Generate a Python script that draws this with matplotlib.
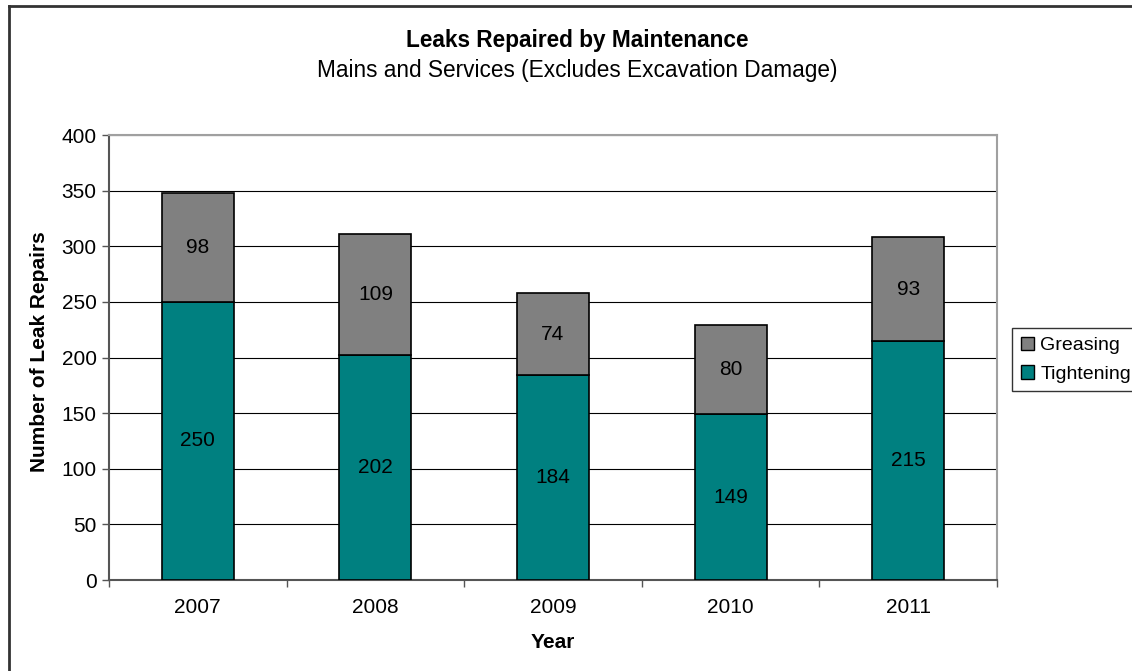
import numpy as np
import matplotlib.pyplot as plt
from matplotlib.patches import Patch
from matplotlib.lines import Line2D

plt.rcParams['font.family'] = ['Liberation Sans', 'DejaVu Sans']

years = ['2007', '2008', '2009', '2010', '2011']
tightening = [250, 202, 184, 149, 215]
greasing = [98, 109, 74, 80, 93]

TEAL = '#008080'
GREY = '#808080'
FS = 15

fig = plt.figure(figsize=(11.32, 6.71), dpi=100)
ax = fig.add_axes([0.0963, 0.1356, 0.7844, 0.6632])

x = np.arange(len(years))
w = 0.405
ax.bar(x, tightening, w, color=TEAL, edgecolor='black', lw=1.2, zorder=3)
ax.bar(x, greasing, w, bottom=tightening, color=GREY, edgecolor='black', lw=1.2, zorder=3)

# value labels centred in each segment
for i in range(len(years)):
    ax.text(x[i], tightening[i] / 2, str(tightening[i]), ha='center', va='center',
            fontsize=FS, zorder=4)
    ax.text(x[i], tightening[i] + greasing[i] / 2, str(greasing[i]), ha='center',
            va='center', fontsize=FS, zorder=4)

ax.set_xlim(-0.5, len(years) - 0.5)
ax.set_ylim(0, 400)
ax.set_yticks(np.arange(0, 401, 50))
ax.yaxis.grid(True, color='black', lw=0.8, zorder=0)
ax.set_axisbelow(True)

ax.set_xticks(x)
ax.set_xticklabels(years)
ax.set_xticks(np.arange(-0.5, len(years), 1), minor=True)
ax.tick_params(axis='x', which='major', length=0, pad=13, labelsize=FS)
ax.tick_params(axis='x', which='minor', length=5, width=1, color='#555555', direction='out')
ax.tick_params(axis='y', length=5, width=1, color='#555555', labelsize=FS, pad=4)

for s in ['left', 'bottom']:
    ax.spines[s].set_color('#555555')
    ax.spines[s].set_linewidth(1.5)
for s in ['top', 'right']:
    ax.spines[s].set_color('#a0a0a0')
    ax.spines[s].set_linewidth(1.5)

fig.text(553 / 1132, 1 - 642 / 671, 'Year', ha='center', va='center',
         fontsize=FS, fontweight='bold')
fig.text(40 / 1132, 1 - 352 / 671, 'Number of Leak Repairs', rotation=90,
         ha='center', va='center', fontsize=FS, fontweight='bold')

fig.text(577 / 1132, 1 - 40 / 671, 'Leaks Repaired by Maintenance', ha='center',
         va='center', fontsize=16.3, fontweight='bold')
fig.text(577 / 1132, 1 - 70 / 671, 'Mains and Services (Excludes Excavation Damage)',
         ha='center', va='center', fontsize=16.3)

handles = [Patch(facecolor=GREY, edgecolor='black', label='Greasing'),
           Patch(facecolor=TEAL, edgecolor='black', label='Tightening')]
leg = fig.legend(handles=handles, loc='upper left',
                 bbox_to_anchor=(1012 / 1132, 1 - 328 / 671), fontsize=14,
                 frameon=True, fancybox=False, handlelength=0.7, handleheight=0.7,
                 handletextpad=0.3, borderpad=0.45, labelspacing=0.55,
                 borderaxespad=0)
leg.get_frame().set_edgecolor('black')
leg.get_frame().set_linewidth(1.0)

# outer chart border
fig.add_artist(Line2D([9 / 1132, 9 / 1132], [0, 1 - 6 / 671], color='#333333', lw=2,
                      transform=fig.transFigure))
fig.add_artist(Line2D([9 / 1132, 1], [1 - 6 / 671, 1 - 6 / 671], color='#333333', lw=2,
                      transform=fig.transFigure))

fig.savefig('out.png', dpi=100)
